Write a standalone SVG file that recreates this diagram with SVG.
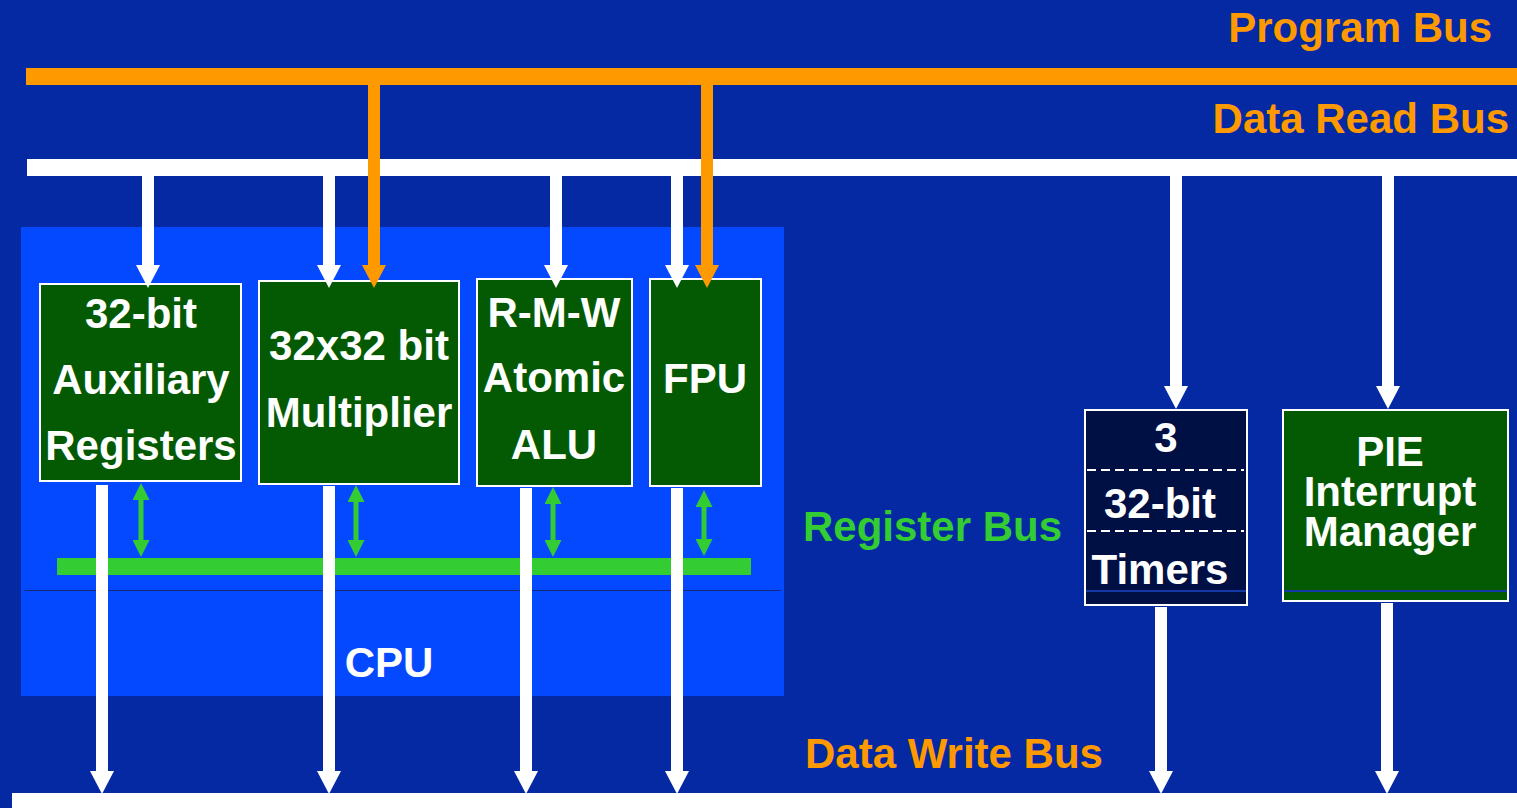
<svg xmlns="http://www.w3.org/2000/svg" width="1517" height="808" viewBox="0 0 1517 808">
<style>
.t{font-family:"Liberation Sans",Arial,sans-serif;font-weight:bold;font-size:42px}
.w{fill:#ffffff}
.or{fill:#FF9900}
.gr{fill:#33CC33}
.box{fill:#035A03;stroke:#ffffff;stroke-width:2}
.tbox{fill:#001045;stroke:#ffffff;stroke-width:2}
.wa{stroke:#ffffff;stroke-width:12;fill:none;marker-end:url(#hw)}
.oa{stroke:#FF9900;stroke-width:12;fill:none;marker-end:url(#ho)}
.ga{stroke:#33CC33;stroke-width:5;fill:none;marker-start:url(#hg);marker-end:url(#hg)}
.dash{stroke:#ffffff;stroke-width:2;stroke-dasharray:9 5}
.sep{stroke:#1438A8;stroke-width:2}
</style>
<defs>
<marker id="hw" markerUnits="userSpaceOnUse" markerWidth="23" markerHeight="24" viewBox="0 0 23 24" refX="0" refY="12" orient="auto"><path d="M0,0 L23,12 L0,24 z" fill="#ffffff"/></marker>
<marker id="ho" markerUnits="userSpaceOnUse" markerWidth="23" markerHeight="24" viewBox="0 0 23 24" refX="0" refY="12" orient="auto"><path d="M0,0 L23,12 L0,24 z" fill="#FF9900"/></marker>
<marker id="hg" markerUnits="userSpaceOnUse" markerWidth="17" markerHeight="17" viewBox="0 0 17 17" refX="0" refY="8.5" orient="auto-start-reverse"><path d="M0,0 L17,8.5 L0,17 z" fill="#33CC33"/></marker>
</defs>
<rect x="0" y="0" width="1517" height="808" fill="#0429A3"/>
<g id="cpu">
<rect x="21" y="227" width="763" height="469" fill="#0448FF"/>
<line x1="24" y1="590.5" x2="781" y2="590.5" stroke="#14287A" stroke-width="1"/>
<text class="t w" x="389" y="677" text-anchor="middle">CPU</text>
</g>
<g id="buses">
<rect id="program-bus" x="26" y="68" width="1491" height="17" fill="#FF9900"/>
<rect id="data-read-bus" x="27" y="159" width="1490" height="17" fill="#ffffff"/>
<rect id="data-write-bus" x="12" y="793" width="1505" height="15" fill="#ffffff"/>
<rect id="register-bus" x="57" y="558" width="694" height="17" fill="#33CC33"/>
<text class="t or" x="1492" y="42" text-anchor="end">Program Bus</text>
<text class="t or" x="1509" y="133" text-anchor="end">Data Read Bus</text>
<text class="t gr" x="803" y="541">Register Bus</text>
<text class="t or" x="805" y="768">Data Write Bus</text>
</g>
<g id="aux-registers">
<rect class="box" x="40" y="284" width="201" height="197"/>
<text class="t w" x="141" y="328" text-anchor="middle">32-bit</text>
<text class="t w" x="141" y="394" text-anchor="middle">Auxiliary</text>
<text class="t w" x="141" y="460" text-anchor="middle">Registers</text>
</g>
<g id="multiplier">
<rect class="box" x="259" y="281" width="200" height="203"/>
<text class="t w" x="359" y="360" text-anchor="middle">32x32 bit</text>
<text class="t w" x="359" y="427" text-anchor="middle">Multiplier</text>
</g>
<g id="alu">
<rect class="box" x="477" y="279" width="155" height="207"/>
<text class="t w" x="554" y="327" text-anchor="middle">R-M-W</text>
<text class="t w" x="554" y="392" text-anchor="middle">Atomic</text>
<text class="t w" x="554" y="459" text-anchor="middle">ALU</text>
</g>
<g id="fpu">
<rect class="box" x="650" y="279" width="111" height="207"/>
<text class="t w" x="705" y="393" text-anchor="middle">FPU</text>
</g>
<g id="timers">
<rect class="tbox" x="1085" y="410" width="162" height="195"/>
<line class="dash" x1="1087" y1="470" x2="1244" y2="470"/>
<line class="dash" x1="1087" y1="531" x2="1244" y2="531"/>
<line class="sep" x1="1086" y1="591" x2="1246" y2="591"/>
<text class="t w" x="1166" y="452" text-anchor="middle">3</text>
<text class="t w" x="1160" y="518" text-anchor="middle">32-bit</text>
<text class="t w" x="1160" y="584" text-anchor="middle">Timers</text>
</g>
<g id="pie">
<rect class="box" x="1283" y="410" width="225" height="191"/>
<line class="sep" x1="1284" y1="591" x2="1507" y2="591"/>
<text class="t w" x="1390" y="466" text-anchor="middle">PIE</text>
<text class="t w" x="1390" y="506" text-anchor="middle">Interrupt</text>
<text class="t w" x="1390" y="546" text-anchor="middle">Manager</text>
</g>
<g id="connectors">
<line class="wa" x1="148" y1="176" x2="148" y2="265"/>
<line class="wa" x1="329" y1="176" x2="329" y2="265"/>
<line class="wa" x1="556" y1="176" x2="556" y2="265"/>
<line class="wa" x1="677" y1="176" x2="677" y2="265"/>
<line class="wa" x1="1176" y1="176" x2="1176" y2="386"/>
<line class="wa" x1="1388" y1="176" x2="1388" y2="386"/>
<line class="oa" x1="374" y1="85" x2="374" y2="265"/>
<line class="oa" x1="707" y1="85" x2="707" y2="265"/>
<line class="wa" x1="102" y1="485" x2="102" y2="771"/>
<line class="wa" x1="329" y1="486" x2="329" y2="771"/>
<line class="wa" x1="526" y1="488" x2="526" y2="771"/>
<line class="wa" x1="677" y1="488" x2="677" y2="771"/>
<line class="wa" x1="1161" y1="607" x2="1161" y2="771"/>
<line class="wa" x1="1387" y1="603" x2="1387" y2="771"/>
<line class="ga" x1="141" y1="500" x2="141" y2="540"/>
<line class="ga" x1="356" y1="502" x2="356" y2="540"/>
<line class="ga" x1="553" y1="504" x2="553" y2="540"/>
<line class="ga" x1="704" y1="507" x2="704" y2="539"/>
</g>
</svg>
